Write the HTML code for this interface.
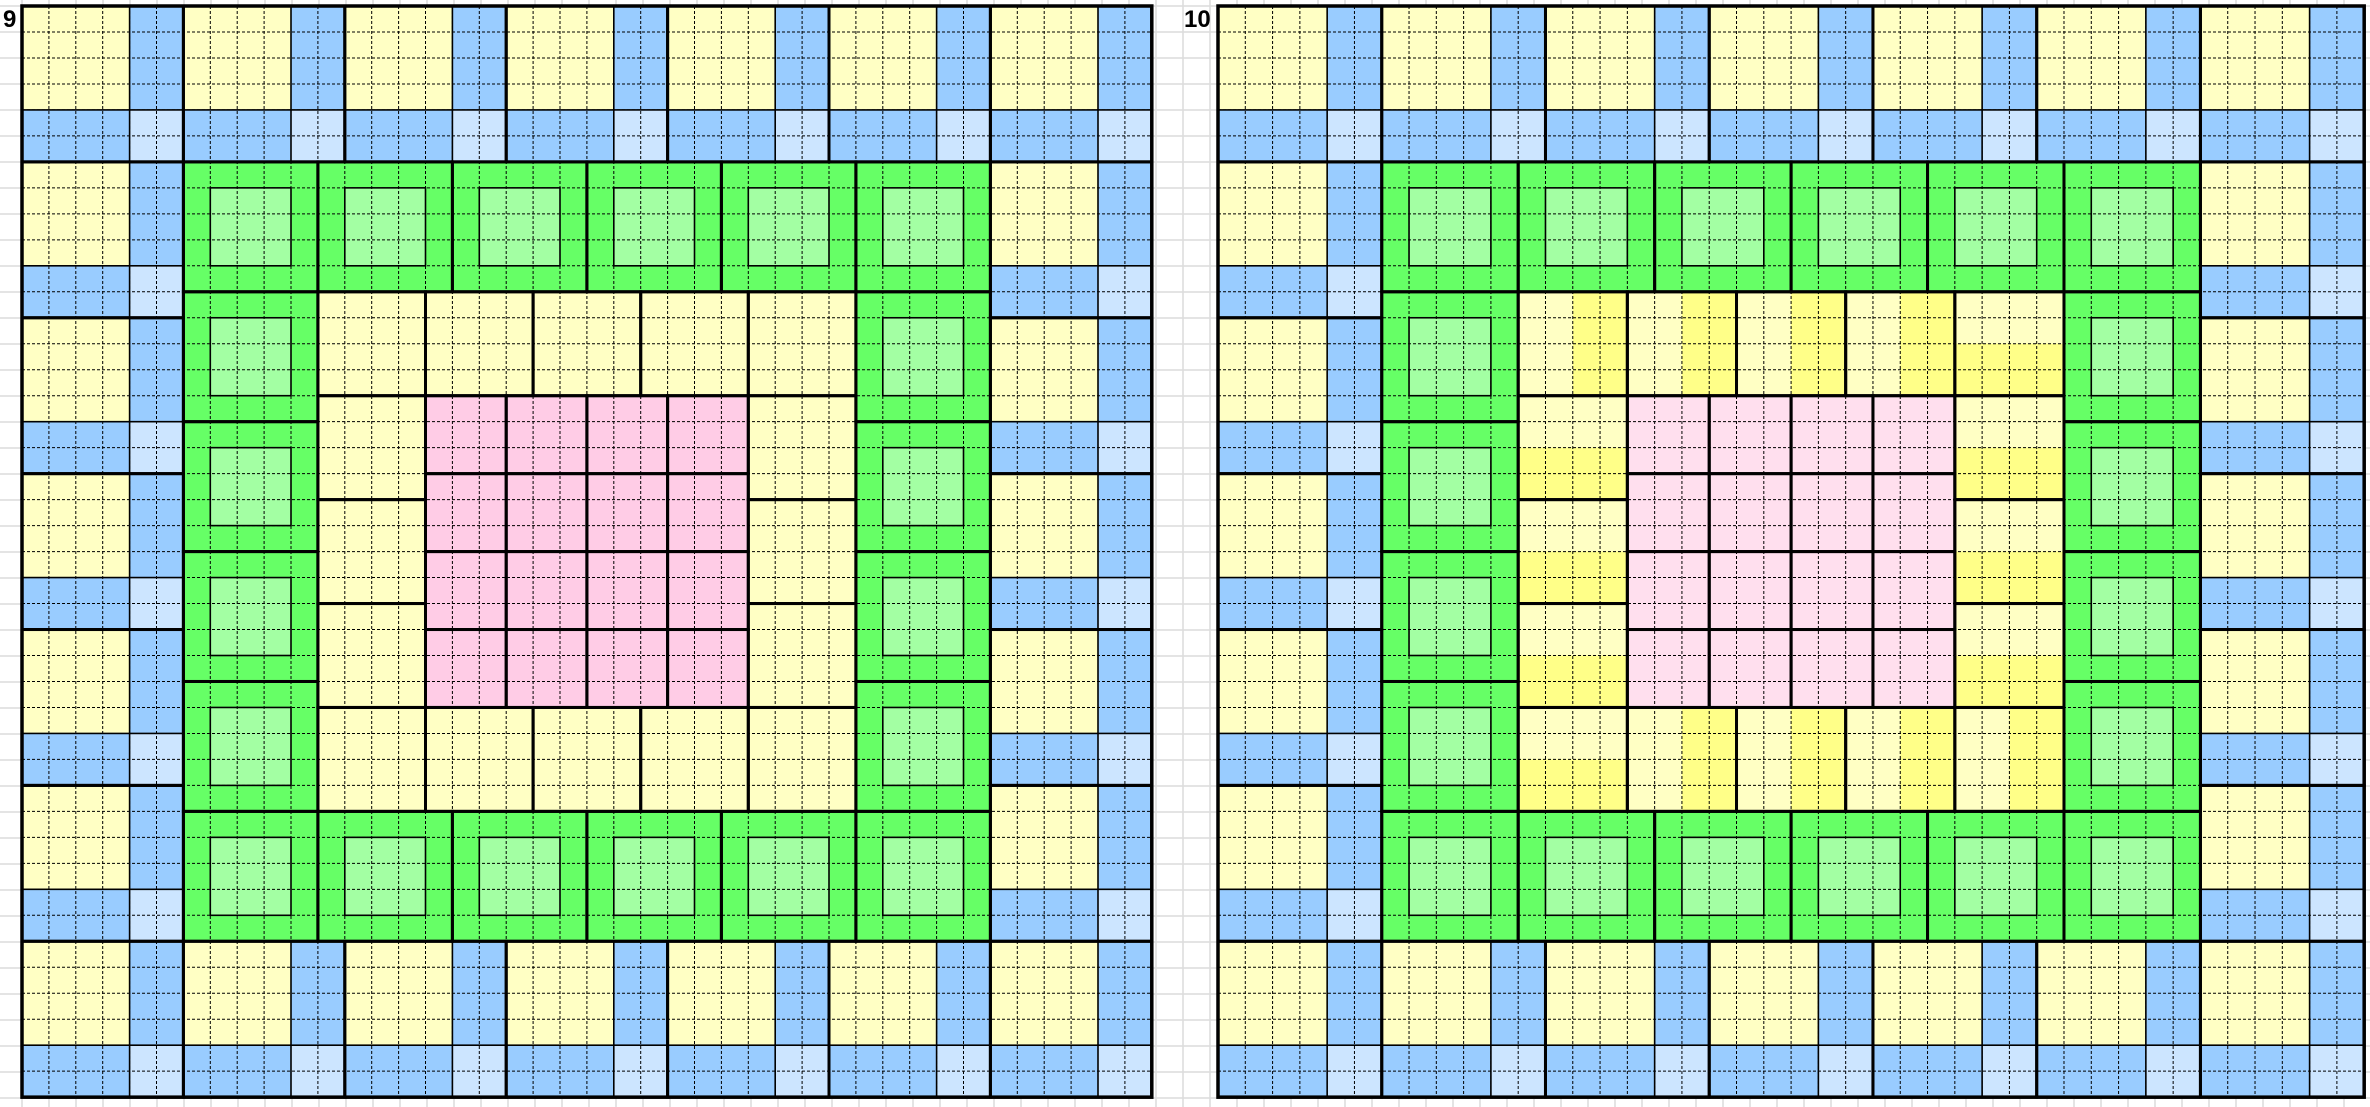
<!DOCTYPE html>
<html><head><meta charset="utf-8"><style>
html,body{margin:0;padding:0;background:#fff;width:2370px;height:1107px;overflow:hidden}
svg{position:absolute;left:0;top:0}
.lbl{position:absolute;font-family:"Liberation Sans",sans-serif;font-size:24px;font-weight:bold;color:#000}
</style></head><body>
<svg id="s" width="2370" height="1107" xmlns="http://www.w3.org/2000/svg"></svg>
<div class="lbl" style="left:3px;top:6px">9</div>
<div class="lbl" style="left:1184px;top:6px">10</div>
<script>
var s=document.getElementById('s'),out='';
for(var x=22-27;x<2370;x+=27)out+='<line x1="'+x+'" y1="0" x2="'+x+'" y2="1107" stroke="#dcdcdc" stroke-width="1.5"/>';
for(var y=6-26;y<1107;y+=26)out+='<line x1="0" y1="'+y+'" x2="2370" y2="'+y+'" stroke="#dcdcdc" stroke-width="1.5"/>';
var Y='#ffffc4',B='#99ccff',LB='#cce5ff',G='#66ff66',LG='#a3ffa3',YB='#ffff88';
function chart(x0,cw,v){
 var y0=6,ch=25.98,fills=[],thin=[],thick=[];
 function R(c,r,w,h){return [x0+c*cw,y0+r*ch,w*cw,h*ch];}
 function f(c,r,w,h,col){fills.push([R(c,r,w,h),col]);}
 var i,j,c,r,k;
 for(i=0;i<7;i++)for(j=0;j<7;j++){if(!(i==0||i==6||j==0||j==6))continue;c=6*i;r=6*j;
  f(c,r,4,4,Y);f(c+4,r,2,4,B);f(c,r+4,4,2,B);f(c+4,r+4,2,2,LB);
  thin.push(R(c,r,4,4),R(c+4,r+4,2,2));thick.push(R(c,r,6,6));}
 for(i=0;i<6;i++)for(j=0;j<6;j++){if(!(i==0||i==5||j==0||j==5))continue;c=6+5*i;r=6+5*j;
  f(c,r,5,5,G);f(c+1,r+1,3,3,LG);thin.push(R(c+1,r+1,3,3));thick.push(R(c,r,5,5));}
 var yb=[];
 for(k=0;k<5;k++){yb.push([11+4*k,11,k<4?'v':'h']);yb.push([11+4*k,27,k>0?'v':'h']);}
 for(k=0;k<3;k++){yb.push([11,15+4*k,'h']);yb.push([27,15+4*k,'h']);}
 yb.forEach(function(b){f(b[0],b[1],4,4,Y);
  if(v){if(b[2]=='v'){f(b[0]+2,b[1],2,4,YB);thin.push(R(b[0]+2,b[1],0,4));}
   else{f(b[0],b[1]+2,4,2,YB);thin.push(R(b[0],b[1]+2,4,0));}}
  thick.push(R(b[0],b[1],4,4));});
 var P=v?'#ffdfee':'#ffcce6';
 for(i=0;i<4;i++)for(j=0;j<4;j++){f(15+3*i,15+3*j,3,3,P);thick.push(R(15+3*i,15+3*j,3,3));}
 fills.forEach(function(a){var q=a[0];out+='<rect x="'+q[0]+'" y="'+q[1]+'" width="'+q[2]+'" height="'+q[3]+'" fill="'+a[1]+'"/>';});
 for(k=1;k<42;k++){var xx=x0+k*cw,yy=y0+k*ch;
  out+='<line x1="'+xx+'" y1="'+y0+'" x2="'+xx+'" y2="'+(y0+42*ch)+'" stroke="#000" stroke-width="1" stroke-dasharray="3 2"/>';
  out+='<line x1="'+x0+'" y1="'+yy+'" x2="'+(x0+42*cw)+'" y2="'+yy+'" stroke="#000" stroke-width="1" stroke-dasharray="3 2"/>';}
 thin.forEach(function(q){out+='<rect x="'+q[0]+'" y="'+q[1]+'" width="'+q[2]+'" height="'+q[3]+'" fill="none" stroke="#000" stroke-width="1.6"/>';});
 thick.forEach(function(q){out+='<rect x="'+q[0]+'" y="'+q[1]+'" width="'+q[2]+'" height="'+q[3]+'" fill="none" stroke="#000" stroke-width="3"/>';});
 var q=R(0,0,42,42);out+='<rect x="'+q[0]+'" y="'+q[1]+'" width="'+q[2]+'" height="'+q[3]+'" fill="none" stroke="#000" stroke-width="3.5"/>';
}
chart(22,26.9,false);
chart(1218,27.29,true);
s.innerHTML=out;
</script>
</body></html>
